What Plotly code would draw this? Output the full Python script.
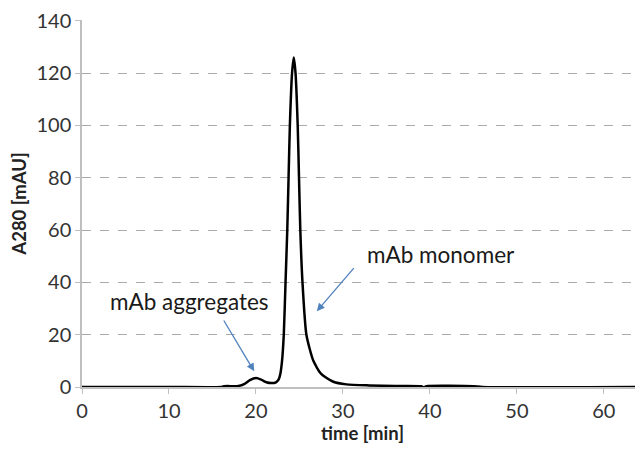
import plotly.graph_objects as go

# chromatogram
time_min = [0, 10, 16, 16.3, 18.0, 18.7, 19.3, 20.0, 20.6, 21.2, 21.8, 22.3, 22.6,
            22.8, 23.0, 23.2, 23.4, 23.6, 23.75, 23.9, 24.15, 24.35, 24.55, 24.8,
            24.95, 25.1, 25.35, 25.8, 26.6, 27.5, 28.9, 30.4, 33, 36, 39, 39.3,
            39.6, 45, 46, 64.5]
a280 = [0, 0, 0, 0.3, 0.4, 1.2, 2.6, 3.4, 2.8, 1.8, 1.5, 1.8, 2.8,
        5, 10, 20, 40, 60, 80, 100, 120, 126, 120, 100,
        80, 60, 40, 20, 10, 5, 2, 1.0, 0.6, 0.4, 0.3, -0.1,
        0.3, 0.3, 0.0, 0]

labels = ['mAb aggregates', 'mAb monomer']
label_pos = [(12.4, 32.5), (41.3, 50.5)]
arrow_tail = [(16.2, 26), (31.4, 46)]
arrow_head = [(19.8, 6.0), (27.0, 29)]

fig = go.Figure()
fig.add_trace(go.Scatter(x=time_min, y=a280, mode='lines',
                         line=dict(color='black', width=2.5, shape='spline', smoothing=0.6),
                         showlegend=False))

for txt, (tx, ty) in zip(labels, label_pos):
    fig.add_annotation(x=tx, y=ty, text=txt, showarrow=False,
                       font=dict(size=22.5, color='#1a1a1a'))
for (x0, y0), (x1, y1) in zip(arrow_tail, arrow_head):
    fig.add_annotation(x=x1, y=y1, ax=x0, ay=y0, xref='x', yref='y',
                       axref='x', ayref='y', text='', showarrow=True,
                       arrowhead=2, arrowsize=1.2, arrowwidth=1.3,
                       arrowcolor='#4F81BD')

# page body adds 8px, so the figure is a bit smaller than the window
fig.update_layout(
    width=635, height=442,
    margin=dict(l=74, r=0, t=8, b=63),
    plot_bgcolor='white', paper_bgcolor='white',
    font=dict(family='Lato, Open Sans, sans-serif', size=20, color='#333333'),
)
fig.update_xaxes(range=[0, 64.5], dtick=10, showgrid=False, zeroline=False,
                 showline=True, linecolor='#BFBFBF', linewidth=1.5,
                 ticks='outside', ticklen=5, tickcolor='#BFBFBF',
                 title=dict(text='<b>time [min]</b>', font=dict(size=18.5, color='#222222'),
                            standoff=4))
fig.update_yaxes(range=[0, 140.3], tick0=0, dtick=20, showgrid=True, gridcolor='#AAAAAA',
                 griddash='dash', gridwidth=1, zeroline=False,
                 showline=True, linecolor='#BFBFBF', linewidth=1.5,
                 ticks='outside', ticklen=5, tickcolor='#BFBFBF',
                 ticklabeloverflow='allow',
                 title=dict(text='<b>A280 [mAU]</b>', font=dict(size=18.5, color='#222222'),
                            standoff=6))

fig.write_html("out.html")
